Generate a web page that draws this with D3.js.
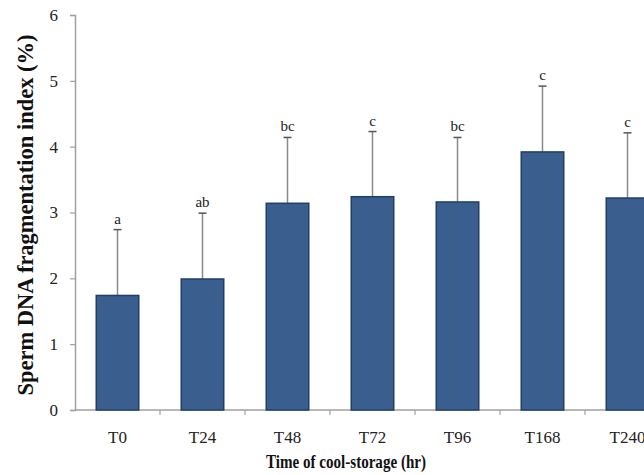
<!DOCTYPE html>
<html>
<head>
<meta charset="utf-8">
<script src="https://cdn.jsdelivr.net/npm/d3@7"></script>
<style>
  body { margin: 0; background: #fff; }
  svg { display: block; }
</style>
</head>
<body>
<svg id="chart" width="644" height="475"></svg>
<script>
// data
var categories = ["T0", "T24", "T48", "T72", "T96", "T168", "T240"];
var means = [1.74, 1.99, 3.14, 3.24, 3.16, 3.92, 3.22];
var sdErr = [1.00, 1.00, 1.00, 0.99, 0.98, 1.00, 0.99];
var letters = ["a", "ab", "bc", "c", "bc", "c", "c"];
var yTicks = [0, 1, 2, 3, 4, 5, 6];

var svg = d3.select("#chart");
var plotLeft = 75, plotTop = 15, plotBottom = 410;
var bandW = 85;

var x = d3.scaleBand()
  .domain(categories)
  .range([plotLeft, plotLeft + bandW * categories.length])
  .paddingInner(0.5).paddingOuter(0.25);

var y = d3.scaleLinear().domain([0, 6]).range([plotBottom, plotTop]);

var axisColor = "#a0a0a0";
var serif = "'Liberation Serif', 'Times New Roman', serif";

// y axis
var gy = svg.append("g").attr("transform", "translate(" + plotLeft + ",0)")
  .call(d3.axisLeft(y).tickValues(yTicks).tickSize(5).tickPadding(12).tickFormat(d3.format("d")));
gy.select(".domain").attr("stroke", axisColor).attr("stroke-width", 1.5);
gy.selectAll(".tick line").attr("stroke", axisColor).attr("stroke-width", 1.2);
gy.selectAll(".tick text").attr("font-family", serif).attr("font-size", "17px").attr("fill", "#222");

// x axis line + ticks between categories
svg.append("line")
  .attr("x1", plotLeft).attr("x2", 644)
  .attr("y1", plotBottom).attr("y2", plotBottom)
  .attr("stroke", axisColor).attr("stroke-width", 1.5);
for (var i = 1; i < categories.length; i++) {
  var bx = plotLeft + i * bandW;
  svg.append("line")
    .attr("x1", bx).attr("x2", bx)
    .attr("y1", plotBottom).attr("y2", plotBottom + 5)
    .attr("stroke", axisColor).attr("stroke-width", 1.2);
}

// error bars (upper only)
svg.selectAll(".err").data(categories).enter().append("g").each(function(d, i) {
  var cx = x(d) + x.bandwidth() / 2;
  var g = d3.select(this);
  g.append("line")
    .attr("x1", cx).attr("x2", cx)
    .attr("y1", y(means[i])).attr("y2", y(means[i] + sdErr[i]))
    .attr("stroke", "#8a8a8a").attr("stroke-width", 1.5);
  g.append("line")
    .attr("x1", cx - 4).attr("x2", cx + 4)
    .attr("y1", y(means[i] + sdErr[i])).attr("y2", y(means[i] + sdErr[i]))
    .attr("stroke", "#555").attr("stroke-width", 1.5);
  g.append("text")
    .attr("x", cx).attr("y", y(means[i] + sdErr[i]) - 6)
    .attr("text-anchor", "middle")
    .attr("font-family", serif).attr("font-size", "15px").attr("fill", "#222")
    .text(letters[i]);
});

// bars
svg.selectAll(".bar").data(categories).enter().append("rect")
  .attr("x", function(d) { return x(d); })
  .attr("y", function(d, i) { return y(means[i]); })
  .attr("width", x.bandwidth())
  .attr("height", function(d, i) { return plotBottom - y(means[i]); })
  .attr("fill", "#3a5f8f")
  .attr("stroke", "#213f66").attr("stroke-width", 1.5);

// category labels
svg.selectAll(".cat").data(categories).enter().append("text")
  .attr("x", function(d) { return x(d) + x.bandwidth() / 2; })
  .attr("y", 443)
  .attr("text-anchor", "middle")
  .attr("font-family", serif).attr("font-size", "17px").attr("fill", "#222")
  .text(function(d) { return d; });

// axis titles
svg.append("text")
  .attr("x", 346).attr("y", 468)
  .attr("text-anchor", "middle")
  .attr("font-family", serif).attr("font-weight", "bold").attr("font-size", "18px")
  .attr("textLength", 160).attr("lengthAdjust", "spacingAndGlyphs")
  .attr("fill", "#111")
  .text("Time of cool-storage (hr)");

svg.append("text")
  .attr("transform", "translate(33,215) rotate(-90)")
  .attr("text-anchor", "middle")
  .attr("font-family", serif).attr("font-weight", "bold").attr("font-size", "22.5px")
  .attr("fill", "#111")
  .text("Sperm DNA fragmentation index (%)");
</script>
</body>
</html>
